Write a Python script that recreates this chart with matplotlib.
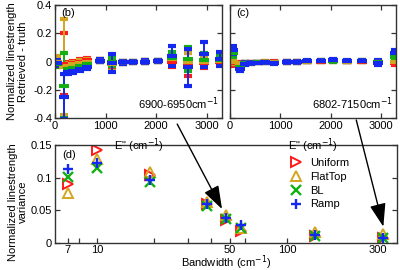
import matplotlib
matplotlib.use("Agg")
import matplotlib.pyplot as plt
from matplotlib.ticker import FixedLocator, NullFormatter

plt.rcParams['font.family'] = ['Liberation Sans', 'DejaVu Sans']
plt.rcParams['font.size'] = 8

# ---------------- data ----------------
series = ["Uniform", "FlatTop", "BL", "Ramp"]
colors = ["#ff1a1a", "#d4a520", "#12b012", "#1428f0"]

# panel (b): 6900-6950 cm-1
Eb = [40, 170, 260, 355, 495, 630, 890, 1135, 1350, 1550, 1780, 2045, 2315, 2620, 2935, 3270]
uni_b = [-0.01, -0.02, -0.02, -0.01, 0.00, 0.01, 0.005, 0.00, -0.005, -0.003, 0.0, 0.005, 0.00, -0.02, -0.01, 0.00]
uni_b_err = [0.02, 0.22, 0.015, 0.015, 0.015, 0.015, 0.01, 0.045, 0.01, 0.008, 0.008, 0.008, 0.04, 0.08, 0.035, 0.02]
flat_b = [0.00, -0.04, -0.03, -0.02, -0.01, 0.00, 0.005, -0.015, -0.005, -0.003, 0.0, 0.005, 0.02, 0.00, 0.00, 0.005]
flat_b_err = [0.04, 0.34, 0.02, 0.02, 0.02, 0.015, 0.01, 0.055, 0.01, 0.008, 0.008, 0.008, 0.04, 0.06, 0.025, 0.02]
bl_b = [-0.02, -0.17, -0.05, -0.045, -0.03, -0.02, 0.005, -0.005, -0.005, -0.003, 0.0, 0.005, 0.025, 0.02, 0.01, 0.01]
bl_b_err = [0.02, 0.23, 0.02, 0.02, 0.015, 0.015, 0.01, 0.03, 0.01, 0.008, 0.008, 0.008, 0.04, 0.085, 0.05, 0.03]
ramp_b = [-0.01, -0.25, -0.075, -0.065, -0.05, -0.04, 0.005, -0.01, -0.005, -0.003, 0.0, 0.005, 0.04, -0.04, 0.05, 0.02]
ramp_b_err = [0.02, 0.16, 0.015, 0.015, 0.015, 0.015, 0.01, 0.065, 0.01, 0.008, 0.008, 0.008, 0.07, 0.13, 0.09, 0.05]

# panel (c): 6802-7150 cm-1
Ec = [60, 200, 300, 420, 560, 700, 870, 1130, 1330, 1530, 1800, 2050, 2320, 2630, 2950, 3290]
uni_c = [-0.01, -0.015, -0.01, -0.008, -0.006, -0.005, -0.004, -0.002, -0.002, 0.0, 0.0, 0.002, 0.0, 0.0, -0.005, -0.012]
uni_c_err = [0.02, 0.012, 0.008, 0.006, 0.006, 0.006, 0.006, 0.006, 0.006, 0.006, 0.006, 0.006, 0.006, 0.006, 0.008, 0.01]
flat_c = [0.0, -0.02, -0.01, -0.008, -0.006, -0.005, -0.006, -0.003, -0.003, 0.0, 0.002, 0.004, 0.0, 0.002, -0.006, 0.0]
flat_c_err = [0.02, 0.012, 0.008, 0.006, 0.006, 0.006, 0.006, 0.006, 0.006, 0.006, 0.006, 0.006, 0.006, 0.006, 0.008, 0.01]
bl_c = [0.06, -0.04, -0.012, -0.009, -0.007, -0.006, -0.008, -0.003, -0.003, 0.001, 0.004, 0.006, 0.001, 0.004, -0.005, 0.03]
bl_c_err = [0.025, 0.015, 0.008, 0.006, 0.006, 0.006, 0.006, 0.006, 0.006, 0.006, 0.006, 0.006, 0.006, 0.006, 0.01, 0.02]
ramp_c = [0.08, -0.05, -0.015, -0.01, -0.008, -0.006, -0.01, -0.003, -0.003, 0.002, 0.007, 0.01, 0.003, 0.007, -0.008, 0.06]
ramp_c_err = [0.03, 0.02, 0.008, 0.006, 0.006, 0.006, 0.006, 0.006, 0.006, 0.006, 0.006, 0.006, 0.006, 0.006, 0.018, 0.023]

# panel (d): variance vs bandwidth
bw = [7, 10, 19, 38, 48, 57, 140, 320]
uni_d = [0.091, 0.143, 0.104, 0.060, 0.035, 0.018, 0.010, 0.007]
flat_d = [0.076, 0.128, 0.108, 0.063, 0.043, 0.023, 0.017, 0.014]
bl_d = [0.101, 0.115, 0.094, 0.056, 0.036, 0.023, 0.011, 0.008]
ramp_d = [0.113, 0.122, 0.097, 0.060, 0.039, 0.028, 0.012, 0.008]

ytick_b = [-0.4, -0.2, 0, 0.2, 0.4]
ytick_b_labels = ["-0.4", "-0.2", "0", "0.2", "0.4"]
xtick_E = [0, 1000, 2000, 3000]
ytick_d = [0, 0.05, 0.1, 0.15]
ytick_d_labels = ["0", "0.05", "0.1", "0.15"]
xtick_d = [7, 10, 50, 100, 300]
xtick_d_minor = [8, 20, 30, 40, 60]

# ---------------- figure ----------------
W, H = 400, 270
fig = plt.figure(figsize=(4, 2.7), dpi=100)

def frac(l, t, r, b):
    return [l / W, 1 - b / H, (r - l) / W, (b - t) / H]

axd = fig.add_axes(frac(55, 145, 397, 243))
axb = fig.add_axes(frac(55, 5, 222, 118))
axc = fig.add_axes(frac(230, 5, 396, 118))
axd.patch.set_visible(False)

spine_c = "#333333"
for ax in (axb, axc, axd):
    for s in ax.spines.values():
        s.set_color(spine_c)
        s.set_linewidth(1.0)
    ax.tick_params(direction="in", length=3.5, width=0.9, color=spine_c,
                   top=True, right=True, labelsize=8, pad=2)
    ax.tick_params(which="minor", direction="in", length=3.5, width=0.9,
                   color=spine_c, top=True, right=True)

def err_panel(ax, E, vals, errs):
    for v, e, c in zip(vals, errs, colors):
        ax.errorbar(E, v, yerr=e, fmt="_", ms=7.5, mew=3.0, color=c,
                    ecolor=c, elinewidth=1.4, capsize=3.0, capthick=1.1,
                    clip_on=True)
    ax.set_xlim(0, 3300)
    ax.set_ylim(-0.4, 0.4)
    ax.set_xticks(xtick_E)
    ax.set_xticklabels([str(t) for t in xtick_E])
    ax.set_xlabel('E" (cm$^{-1}$)', fontsize=8)
    ax.xaxis.set_label_coords(0.5, -0.16)

err_panel(axb, Eb, [uni_b, flat_b, bl_b, ramp_b], [uni_b_err, flat_b_err, bl_b_err, ramp_b_err])
err_panel(axc, Ec, [uni_c, flat_c, bl_c, ramp_c], [uni_c_err, flat_c_err, bl_c_err, ramp_c_err])

axb.set_yticks(ytick_b)
axb.set_yticklabels(ytick_b_labels)
axc.set_yticks(ytick_b)
axc.set_yticklabels([])
axb.set_ylabel("Normalized linestrength\nRetrieved - truth", fontsize=8,
               linespacing=1.1)
axb.yaxis.set_label_coords(-0.16, 0.5)

axb.text(0.04, 0.97, "(b)", transform=axb.transAxes, ha="left", va="top", fontsize=8)
axc.text(0.04, 0.97, "(c)", transform=axc.transAxes, ha="left", va="top", fontsize=8)
axb.text(0.98, 0.05, "6900-6950cm$^{-1}$", transform=axb.transAxes, ha="right",
         va="bottom", fontsize=8)
axc.text(0.98, 0.05, "6802-7150cm$^{-1}$", transform=axc.transAxes, ha="right",
         va="bottom", fontsize=8)

# panel d
markers = [">", "^", "x", "+"]
dvals = [uni_d, flat_d, bl_d, ramp_d]
for name, v, c, m in zip(series, dvals, colors, markers):
    if m in (">", "^"):
        axd.plot(bw, v, linestyle="none", marker=m, ms=7.5, mfc="none",
                 mec=c, mew=1.4, label=name)
    else:
        axd.plot(bw, v, linestyle="none", marker=m, ms=6.5, color=c,
                 mew=1.7, label=name)
axd.set_xscale("log")
axd.set_xlim(6, 380)
axd.set_ylim(0, 0.15)
axd.xaxis.set_major_locator(FixedLocator(xtick_d))
axd.set_xticklabels([str(t) for t in xtick_d])
axd.xaxis.set_minor_locator(FixedLocator(xtick_d_minor))
axd.xaxis.set_minor_formatter(NullFormatter())
axd.tick_params(axis="x", top=False, which="both", pad=1.2)
axd.set_yticks(ytick_d)
axd.set_yticklabels(ytick_d_labels)
axd.set_xlabel("Bandwidth (cm$^{-1}$)", fontsize=8)
axd.xaxis.set_label_coords(0.5, -0.108)
axd.set_ylabel("Normalized linestrength\nvariance", fontsize=8,
               linespacing=1.1)
axd.yaxis.set_label_coords(-0.078, 0.42)
axd.text(0.02, 0.95, "(d)", transform=axd.transAxes, ha="left", va="top", fontsize=8)
leg = axd.legend(loc="upper left", bbox_to_anchor=(0.672, 0.915), frameon=False,
                 fontsize=8, handlelength=1.2, handletextpad=0.7,
                 labelspacing=0.35, borderaxespad=0)

# arrows linking panels
arrow_kw = dict(arrowstyle="-|>,head_length=1.3,head_width=0.45",
                color="black", lw=1.0, shrinkA=0, shrinkB=0,
                mutation_scale=11)
axd.annotate("", xy=(45.5, 0.052), xycoords="data",
             xytext=(2415, -0.443), textcoords=axb.transData,
             arrowprops=arrow_kw, annotation_clip=False)
axd.annotate("", xy=(322, 0.025), xycoords="data",
             xytext=(2510, -0.414), textcoords=axc.transData,
             arrowprops=arrow_kw, annotation_clip=False)

fig.savefig("out.png", dpi=100)
